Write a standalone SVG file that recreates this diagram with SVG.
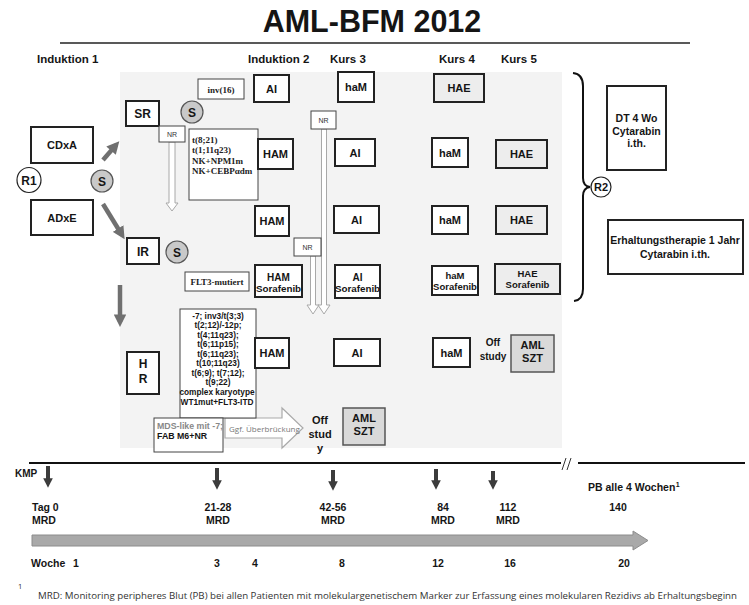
<svg xmlns="http://www.w3.org/2000/svg" width="749" height="605" viewBox="0 0 749 605">
<defs>
<style>
.b{font-family:"Liberation Sans",Arial,sans-serif;font-weight:bold;text-anchor:middle;fill:#151515}
.l{font-family:"Liberation Sans",Arial,sans-serif;font-weight:bold;fill:#151515}
.sf{font-family:"Liberation Serif","Times New Roman",serif;font-weight:bold;fill:#222}
.box{fill:#fff;stroke:#222;stroke-width:2}
.gfill{fill:#ededed;stroke:#222;stroke-width:2}
.thin{fill:#fff;stroke:#444;stroke-width:1}
.gbox{fill:#d9d9d9;stroke:#555;stroke-width:1.5}
.sc{fill:#c9c9c9;stroke:#555;stroke-width:1.2}
.rc{fill:#fff;stroke:#222;stroke-width:1.2}
.hollow{fill:#fff;stroke:#a8a8a8;stroke-width:1}
.ga{stroke:#707070;stroke-width:4.5;fill:none}
.da{stroke:#3c3c3c;stroke-width:4;fill:none}
.nr{font-family:"Liberation Sans",Arial,sans-serif;font-size:7px;text-anchor:middle;fill:#333}
</style>
<marker id="gh" viewBox="0 0 10 10" refX="6" refY="5" markerWidth="2.8" markerHeight="2.8" orient="auto" markerUnits="strokeWidth">
<path d="M0,0 L10,5 L0,10 Z" fill="#707070"/>
</marker>
<marker id="dh" viewBox="0 0 10 10" refX="6" refY="5" markerWidth="2.6" markerHeight="2.4" orient="auto" markerUnits="strokeWidth">
<path d="M0,0 L10,5 L0,10 Z" fill="#3c3c3c"/>
</marker>
</defs>
<rect width="749" height="605" fill="#fff"/>
<rect x="120" y="72" width="442" height="376" fill="#f3f3f3"/>

<g id="title">
<text class="b" x="372" y="32" font-size="30.5">AML-BFM 2012</text>
<line x1="60" y1="43" x2="690" y2="43" stroke="#222" stroke-width="1.5"/>
</g>
<g id="headers">
<text class="l" x="37" y="63" font-size="11.5">Induktion 1</text>
<text class="l" x="248" y="63" font-size="11.5">Induktion 2</text>
<text class="l" x="330" y="63" font-size="11.5">Kurs 3</text>
<text class="l" x="439" y="63" font-size="11.5">Kurs 4</text>
<text class="l" x="501" y="63" font-size="11.5">Kurs 5</text>
</g>

<g id="connectors">
<line class="ga" x1="103" y1="160" x2="116" y2="145" marker-end="url(#gh)"/>
<line class="ga" x1="103" y1="204" x2="122" y2="235" marker-end="url(#gh)"/>
<line class="ga" x1="120" y1="285" x2="120" y2="322" marker-end="url(#gh)"/>
<path class="hollow" d="M169,142 L175,142 L175,203 L178,203 L172,211 L166,203 L169,203 Z"/>
<path class="hollow" d="M310.5,256 L315.5,256 L315.5,305 L319,305 L313,314 L307,305 L310.5,305 Z"/>
<path class="hollow" d="M321.5,129 L326.5,129 L326.5,305 L330,305 L324,314 L318,305 L321.5,305 Z"/>
<path d="M225,418 L282,418 L282,408 L303,428 L282,448 L282,438 L225,438 Z" fill="#fff" stroke="#aaa" stroke-width="1.2"/>
<text x="229" y="432" font-family="'Open Sans',sans-serif" font-size="8" fill="#777">Ggf. Überbrückung</text>
<path d="M573,73 Q583,74 583,86 L583,178 Q583,186 590,187 Q583,188 583,196 L583,289 Q583,300 574,301" fill="none" stroke="#111" stroke-width="2"/>
</g>

<g id="R1"><ellipse class="rc" cx="29" cy="180" rx="12" ry="12.5"/><text class="b" x="29" y="184.5" font-size="12">R1</text></g>
<g id="CDxA"><rect class="box" x="31" y="127" width="62" height="36"/><text class="b" x="62" y="149" font-size="11">CDxA</text></g>
<g id="ADxE"><rect class="box" x="31" y="200" width="62" height="35"/><text class="b" x="62" y="221.5" font-size="11">ADxE</text></g>
<g id="S1"><circle class="sc" cx="102" cy="181" r="11"/><text class="b" x="102" y="185.5" font-size="12">S</text></g>

<g id="SR"><rect class="box" x="126" y="101" width="33" height="25"/><text class="b" x="142.5" y="118" font-size="12">SR</text></g>
<g id="S2"><circle class="sc" cx="192" cy="112" r="11"/><text class="b" x="192" y="116.5" font-size="12">S</text></g>
<g id="NR1"><rect class="thin" x="159" y="126" width="26" height="16"/><text class="nr" x="172" y="136.5">NR</text></g>
<g id="inv16"><rect class="thin" x="198" y="79" width="46" height="20"/><text class="sf" x="221" y="92.5" font-size="9" text-anchor="middle">inv(16)</text></g>
<g id="SRgen"><rect class="thin" x="189" y="129" width="69" height="71"/>
<text class="sf" x="192" y="143" font-size="9">t(8;21)</text>
<text class="sf" x="192" y="153" font-size="9">t(1;11q23)</text>
<text class="sf" x="192" y="164" font-size="9">NK+NPM1m</text>
<text class="sf" x="192" y="174" font-size="9">NK+CEBPαdm</text></g>

<g id="IR"><rect class="box" x="127" y="238" width="32" height="26"/><text class="b" x="143" y="255.5" font-size="12">IR</text></g>
<g id="S3"><circle class="sc" cx="177" cy="252" r="11"/><text class="b" x="177" y="256.5" font-size="12">S</text></g>
<g id="FLT3"><rect class="thin" x="185" y="272" width="64" height="19"/><text class="sf" x="217" y="285" font-size="9" text-anchor="middle">FLT3-mutiert</text></g>
<g id="NR2"><rect class="thin" x="294" y="238" width="27" height="18"/><text class="nr" x="307.5" y="249.5">NR</text></g>
<g id="NR3"><rect class="thin" x="311" y="111" width="25" height="18"/><text class="nr" x="323.5" y="122.5">NR</text></g>

<g id="HR"><rect class="box" x="127" y="352" width="32" height="42"/><text class="b" x="143" y="368" font-size="12">H</text><text class="b" x="143" y="383" font-size="12">R</text></g>
<g id="HRgen"><rect class="thin" x="180" y="309" width="76" height="109"/>
<text class="b" x="218" y="318.5" font-size="8.3">-7; inv3/t(3;3)</text>
<text class="b" x="218" y="328" font-size="8.3">t(2;12)/-12p;</text>
<text class="b" x="218" y="337.5" font-size="8.3">t(4;11q23);</text>
<text class="b" x="218" y="347" font-size="8.3">t(6;11p15);</text>
<text class="b" x="218" y="356.5" font-size="8.3">t(6;11q23);</text>
<text class="b" x="218" y="366" font-size="8.3">t(10;11q23)</text>
<text class="b" x="218" y="375.5" font-size="8.3">t(6;9); t(7;12);</text>
<text class="b" x="218" y="385" font-size="8.3">t(9;22)</text>
<text class="b" x="217" y="395" font-size="8.3">complex karyotype</text>
<text class="b" x="217" y="405" font-size="8.3">WT1mut+FLT3-ITD</text></g>
<g id="MDS"><rect class="thin" x="154" y="418" width="69" height="34"/>
<text class="l" x="157" y="428.5" font-size="8.8" style="fill:#888">MDS-like mit -7;</text>
<text class="l" x="157" y="439" font-size="8.8">FAB M6+NR</text></g>

<g id="AI1"><rect class="box" x="254" y="75" width="35" height="27"/><text class="b" x="271.5" y="92.5" font-size="11">AI</text></g>
<g id="HAM1"><rect class="box" x="258" y="139" width="35" height="30"/><text class="b" x="275.5" y="158" font-size="11">HAM</text></g>
<g id="HAM2"><rect class="box" x="255" y="206" width="34" height="30"/><text class="b" x="272" y="225" font-size="11">HAM</text></g>
<g id="HAMS"><rect class="box" x="255" y="265" width="47" height="32"/><text class="b" x="278.5" y="280.5" font-size="10">HAM</text><text class="b" x="278.5" y="291.5" font-size="9.8">Sorafenib</text></g>
<g id="HAM3"><rect class="box" x="255" y="338" width="34" height="30"/><text class="b" x="272" y="357" font-size="11">HAM</text></g>

<g id="haM1"><rect class="box" x="338" y="72" width="36" height="30"/><text class="b" x="356" y="91" font-size="11">haM</text></g>
<g id="AI2"><rect class="box" x="335" y="139" width="40" height="27"/><text class="b" x="355" y="156.5" font-size="11">AI</text></g>
<g id="AI3"><rect class="box" x="334" y="206" width="45" height="27"/><text class="b" x="356.5" y="223.5" font-size="11">AI</text></g>
<g id="AIS"><rect class="box" x="335" y="265" width="45" height="33"/><text class="b" x="357.5" y="280.5" font-size="10">AI</text><text class="b" x="357.5" y="292" font-size="9.8">Sorafenib</text></g>
<g id="AI4"><rect class="box" x="334" y="339" width="46" height="27"/><text class="b" x="357" y="356.5" font-size="11">AI</text></g>
<g id="OffStudy1"><text class="b" x="320" y="424" font-size="11">Off</text><text class="b" x="320" y="438" font-size="11">stud</text><text class="b" x="320" y="452" font-size="11">y</text></g>
<g id="SZT1"><rect class="gbox" x="343" y="408" width="42" height="37"/><text class="b" x="364" y="422" font-size="11">AML</text><text class="b" x="364" y="435" font-size="11">SZT</text></g>

<g id="HAE1"><rect class="gfill" x="434" y="74" width="50" height="28"/><text class="b" x="459" y="92" font-size="11">HAE</text></g>
<g id="haM2"><rect class="box" x="432" y="138" width="36" height="29"/><text class="b" x="450" y="156.5" font-size="11">haM</text></g>
<g id="haM3"><rect class="box" x="432" y="206" width="36" height="28"/><text class="b" x="450" y="224" font-size="11">haM</text></g>
<g id="haMS"><rect class="box" x="432" y="266" width="46" height="29"/><text class="b" x="455" y="278.5" font-size="9.5">haM</text><text class="b" x="455" y="289.5" font-size="9.5">Sorafenib</text></g>
<g id="haM4"><rect class="box" x="433" y="338" width="37" height="29"/><text class="b" x="451.5" y="356.5" font-size="11">haM</text></g>

<g id="HAE2"><rect class="gfill" x="496" y="140" width="51" height="28"/><text class="b" x="521.5" y="158" font-size="11">HAE</text></g>
<g id="HAE3"><rect class="gfill" x="496" y="206" width="51" height="28"/><text class="b" x="521.5" y="224" font-size="11">HAE</text></g>
<g id="HAES"><rect class="gfill" x="495" y="264" width="65" height="30"/><text class="b" x="527.5" y="277" font-size="9.5">HAE</text><text class="b" x="527.5" y="288" font-size="9.5">Sorafenib</text></g>
<g id="OffStudy2"><text class="b" x="493" y="346" font-size="10">Off</text><text class="b" x="493" y="360" font-size="10">study</text></g>
<g id="SZT2"><rect class="gbox" x="511" y="335" width="43" height="37"/><text class="b" x="532.5" y="349" font-size="11">AML</text><text class="b" x="532.5" y="362" font-size="11">SZT</text></g>

<g id="R2"><circle class="rc" cx="601" cy="187" r="10"/><text class="b" x="601" y="191" font-size="11">R2</text></g>
<g id="DT"><rect class="box" x="607" y="86" width="59" height="84"/><text class="b" x="636.5" y="122" font-size="10.5">DT 4 Wo</text><text class="b" x="636.5" y="135" font-size="10.5">Cytarabin</text><text class="b" x="636.5" y="147" font-size="10.5">i.th.</text></g>
<g id="Erhaltung"><rect class="box" x="608" y="220" width="135" height="54"/><text class="b" x="675" y="244" font-size="10.5">Erhaltungstherapie 1 Jahr</text><text class="b" x="675" y="258" font-size="10.5">Cytarabin i.th.</text></g>

<g id="timeline">
<line x1="29" y1="463" x2="561" y2="463" stroke="#111" stroke-width="2"/>
<line x1="578" y1="463" x2="745" y2="463" stroke="#111" stroke-width="2"/>
<line x1="562" y1="470" x2="566" y2="458" stroke="#333" stroke-width="1"/>
<line x1="567" y1="470" x2="571" y2="458" stroke="#333" stroke-width="1"/>
<line class="da" x1="48" y1="466" x2="48" y2="484" marker-end="url(#dh)"/>
<line class="da" x1="217" y1="468" x2="217" y2="486" marker-end="url(#dh)"/>
<line class="da" x1="333" y1="470" x2="333" y2="487" marker-end="url(#dh)"/>
<line class="da" x1="436" y1="469" x2="436" y2="486" marker-end="url(#dh)"/>
<line class="da" x1="493" y1="471" x2="493" y2="486" marker-end="url(#dh)"/>
<text class="l" x="15" y="477" font-size="10">KMP</text>
<text class="l" x="32" y="511" font-size="10.5">Tag 0</text>
<text class="l" x="32" y="524" font-size="10.5">MRD</text>
<text class="b" x="218" y="511" font-size="10.5">21-28</text>
<text class="b" x="218" y="524" font-size="10.5">MRD</text>
<text class="b" x="333" y="511" font-size="10.5">42-56</text>
<text class="b" x="333" y="524" font-size="10.5">MRD</text>
<text class="b" x="443" y="511" font-size="10.5">84</text>
<text class="b" x="443" y="524" font-size="10.5">MRD</text>
<text class="b" x="508" y="511" font-size="10.5">112</text>
<text class="b" x="508" y="524" font-size="10.5">MRD</text>
<text class="b" x="618" y="511" font-size="10.5">140</text>
<text class="l" x="588" y="491" font-size="10.5">PB alle 4 Wochen<tspan font-size="7" dx="0.5" dy="-4">1</tspan></text>
<path d="M32,535 L633,535 L633,531 L648,540.5 L633,550 L633,546 L32,546 Z" fill="#a9a9a9" stroke="#8c8c8c" stroke-width="1"/>
<text class="l" x="31" y="567" font-size="10.5">Woche</text>
<text class="b" x="76" y="567" font-size="10.5">1</text>
<text class="b" x="217" y="567" font-size="10.5">3</text>
<text class="b" x="255" y="567" font-size="10.5">4</text>
<text class="b" x="342" y="567" font-size="10.5">8</text>
<text class="b" x="438" y="567" font-size="10.5">12</text>
<text class="b" x="510" y="567" font-size="10.5">16</text>
<text class="b" x="624" y="567" font-size="10.5">20</text>
</g>
<g id="footnote">
<text x="18" y="589" font-family="'Open Sans',sans-serif" font-size="7.5" fill="#333">1</text>
<text x="38" y="599" font-family="'Open Sans',sans-serif" font-size="9" fill="#333" textLength="699" lengthAdjust="spacingAndGlyphs">MRD: Monitoring peripheres Blut (PB) bei allen Patienten mit molekulargenetischem Marker zur Erfassung eines molekularen Rezidivs ab Erhaltungsbeginn</text>
</g>
</svg>
